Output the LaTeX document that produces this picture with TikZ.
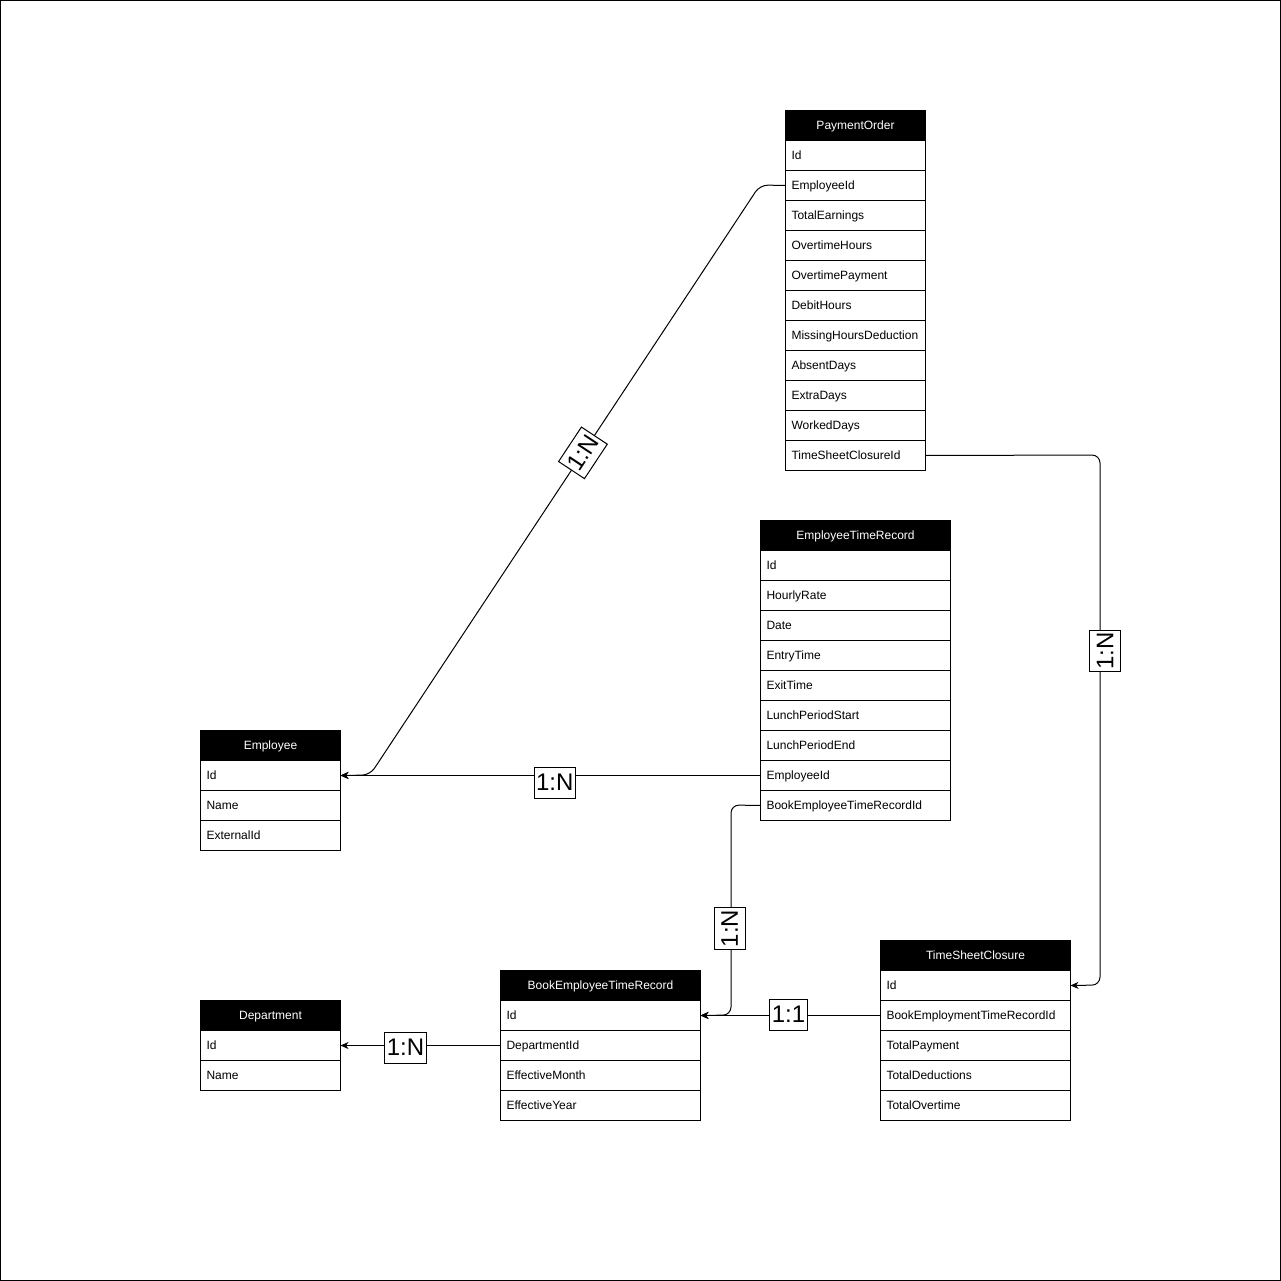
\documentclass[tikz,border=0pt]{standalone}
\usepackage{fontspec}
\setmainfont{Liberation Sans}
\usepackage{tikz}
\usetikzlibrary{shapes, arrows.meta, positioning}
\tikzstyle{header} = [rectangle, draw, fill=black, text=white, line width=1pt, outer sep=0pt,
    minimum height=30pt, inner sep=0pt, text height=11pt, text depth=3pt,
    font=\fontsize{12}{14}\selectfont]
\tikzset{field/.style={rectangle, draw, fill=white, line width=1pt, outer sep=0pt, text width=#1,
    align=left, inner xsep=6pt, inner ysep=0pt, minimum height=30pt,
    text height=11pt, text depth=3pt, font=\fontsize{12}{14}\selectfont}}
\tikzstyle{line} = [draw, line width=1pt, rounded corners=8pt,
    -{Stealth[length=8pt, width=7pt, inset=2.5pt]}]
\tikzstyle{card} = [rectangle, draw, fill=white, line width=1pt, sharp corners, inner xsep=2pt,
    inner ysep=0pt, minimum height=31pt, font=\fontsize{24}{28}\selectfont]

\begin{document}
\begin{tikzpicture}[x=1pt, y=-1pt, node distance = 0pt]
      \useasboundingbox (0,0) rectangle (1281,1281);
      \draw [line width=1pt] (0.5,0.5) rectangle (1280.5,1280.5);
      % PaymentOrder
      \node [header, minimum width=140pt, anchor=north west] (payment-order) at (785.5,110.5) {PaymentOrder};
      \node [field=128pt, below= of payment-order] (po-id) {Id};
      \node [field=128pt, below= of po-id] (po-employee-id) {EmployeeId};
      \node [field=128pt, below= of po-employee-id] (po-total-earnings) {TotalEarnings};
      \node [field=128pt, below= of po-total-earnings] (po-overtime-hours) {OvertimeHours};
      \node [field=128pt, below= of po-overtime-hours] (po-overtime-payment) {OvertimePayment};
      \node [field=128pt, below= of po-overtime-payment] (po-debit-hours) {DebitHours};
      \node [field=128pt, below= of po-debit-hours] (po-missing-hours) {MissingHoursDeduction};
      \node [field=128pt, below= of po-missing-hours] (po-absent-days) {AbsentDays};
      \node [field=128pt, below= of po-absent-days] (po-extra-days) {ExtraDays};
      \node [field=128pt, below= of po-extra-days] (po-worked-days) {WorkedDays};
      \node [field=128pt, below= of po-worked-days] (po-closure-id) {TimeSheetClosureId};
      % EmployeeTimeRecord
      \node [header, minimum width=190pt, anchor=north west] (time-record) at (760.5,520.5) {EmployeeTimeRecord};
      \node [field=178pt, below= of time-record] (tr-id) {Id};
      \node [field=178pt, below= of tr-id] (tr-hourly-rate) {HourlyRate};
      \node [field=178pt, below= of tr-hourly-rate] (tr-date) {Date};
      \node [field=178pt, below= of tr-date] (tr-entry-time) {EntryTime};
      \node [field=178pt, below= of tr-entry-time] (tr-exit-time) {ExitTime};
      \node [field=178pt, below= of tr-exit-time] (tr-lunch-start) {LunchPeriodStart};
      \node [field=178pt, below= of tr-lunch-start] (tr-lunch-end) {LunchPeriodEnd};
      \node [field=178pt, below= of tr-lunch-end] (tr-employee-id) {EmployeeId};
      \node [field=178pt, below= of tr-employee-id] (tr-book-id) {BookEmployeeTimeRecordId};
      % Employee
      \node [header, minimum width=140pt, anchor=north west] (employee) at (200.5,730.5) {Employee};
      \node [field=128pt, below= of employee] (emp-id) {Id};
      \node [field=128pt, below= of emp-id] (emp-name) {Name};
      \node [field=128pt, below= of emp-name] (emp-external-id) {ExternalId};
      % Department
      \node [header, minimum width=140pt, anchor=north west] (department) at (200.5,1000.5) {Department};
      \node [field=128pt, below= of department] (dep-id) {Id};
      \node [field=128pt, below= of dep-id] (dep-name) {Name};
      % BookEmployeeTimeRecord
      \node [header, minimum width=200pt, anchor=north west] (book-record) at (500.5,970.5) {BookEmployeeTimeRecord};
      \node [field=188pt, below= of book-record] (br-id) {Id};
      \node [field=188pt, below= of br-id] (br-department-id) {DepartmentId};
      \node [field=188pt, below= of br-department-id] (br-month) {EffectiveMonth};
      \node [field=188pt, below= of br-month] (br-year) {EffectiveYear};
      % TimeSheetClosure
      \node [header, minimum width=190pt, anchor=north west] (closure) at (880.5,940.5) {TimeSheetClosure};
      \node [field=178pt, below= of closure] (cl-id) {Id};
      \node [field=178pt, below= of cl-id] (cl-book-id) {BookEmploymentTimeRecordId};
      \node [field=178pt, below= of cl-book-id] (cl-total-payment) {TotalPayment};
      \node [field=178pt, below= of cl-total-payment] (cl-total-deductions) {TotalDeductions};
      \node [field=178pt, below= of cl-total-deductions] (cl-total-overtime) {TotalOvertime};
      % Draw edges
      \path [line] (po-employee-id.west) -- (760,185)
          -- node [card, pos=0.454, rotate=56.5] {1:N} (370,775) -- (emp-id.east);
      \path [line] (tr-employee-id.west) -- node [card, pos=0.49, yshift=-7pt] {1:N} (emp-id.east);
      \path [line] (po-closure-id.east) -- (1100,455)
          -- node [card, pos=0.37, xshift=5pt, rotate=90] {1:N} (1100,985) -- (cl-id.east);
      \path [line] (tr-book-id.west) -- (731,805)
          -- node [card, pos=0.588, xshift=-1.5pt, rotate=90] {1:N} (731,1015) -- (br-id.east);
      \path [line] (cl-book-id.west) -- node [card, pos=0.511, yshift=1pt] {1:1} (br-id.east);
      \path [line] (br-department-id.west) -- node [card, pos=0.594, yshift=-2pt] {1:N} (dep-id.east);
  \end{tikzpicture}
\end{document}
